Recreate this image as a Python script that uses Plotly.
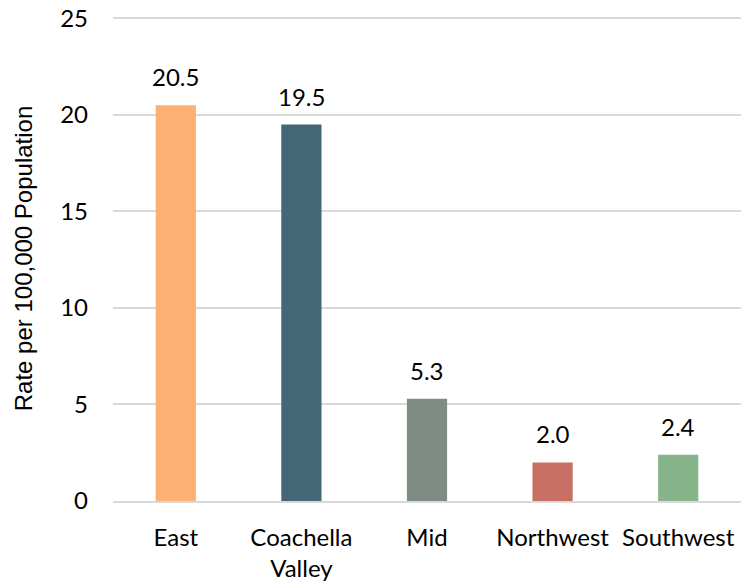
import plotly.graph_objects as go

categories = ["East", "Coachella<br>Valley", "Mid", "Northwest", "Southwest"]
values = [20.5, 19.5, 5.3, 2.0, 2.4]
labels = ["20.5", "19.5", "5.3", "2.0", "2.4"]
colors = ["#FDB071", "#446775", "#7E8C84", "#C76F63", "#87B48B"]

FONT = "Lato, 'Open Sans', sans-serif"

fig = go.Figure(go.Bar(
    x=categories, y=values, marker_color=colors, marker_line_width=0,
    hoverinfo="x+y",
))

for c, v, t in zip(categories, values, labels):
    fig.add_annotation(x=c, y=v, text=t, showarrow=False, yanchor="bottom",
                       yshift=12, font=dict(size=24, color="#000000", family=FONT))

fig.update_layout(
    width=751, height=581,
    margin=dict(l=113, r=10, t=16, b=80, autoexpand=False),
    paper_bgcolor="white", plot_bgcolor="white",
    bargap=0.68, showlegend=False,
    font=dict(family=FONT, color="#000000"),
)
fig.update_yaxes(
    range=[0, 25.12], tickvals=[0, 5, 10, 15, 20, 25], automargin=False,
    showgrid=True, gridcolor="#D9D9D9", gridwidth=2,
    zeroline=False, showline=False, ticks="",
    tickfont=dict(size=24), ticklabelstandoff=24,
    title=dict(text="Rate per 100,000 Population",
               font=dict(size=24, family="'Liberation Sans', Arial, sans-serif"),
               standoff=20),
)
fig.update_xaxes(
    showline=True, linecolor="#D9D9D9", linewidth=2, ticks="", automargin=False,
    tickfont=dict(size=24), ticklabelstandoff=14,
)

fig.write_html("out.html")
